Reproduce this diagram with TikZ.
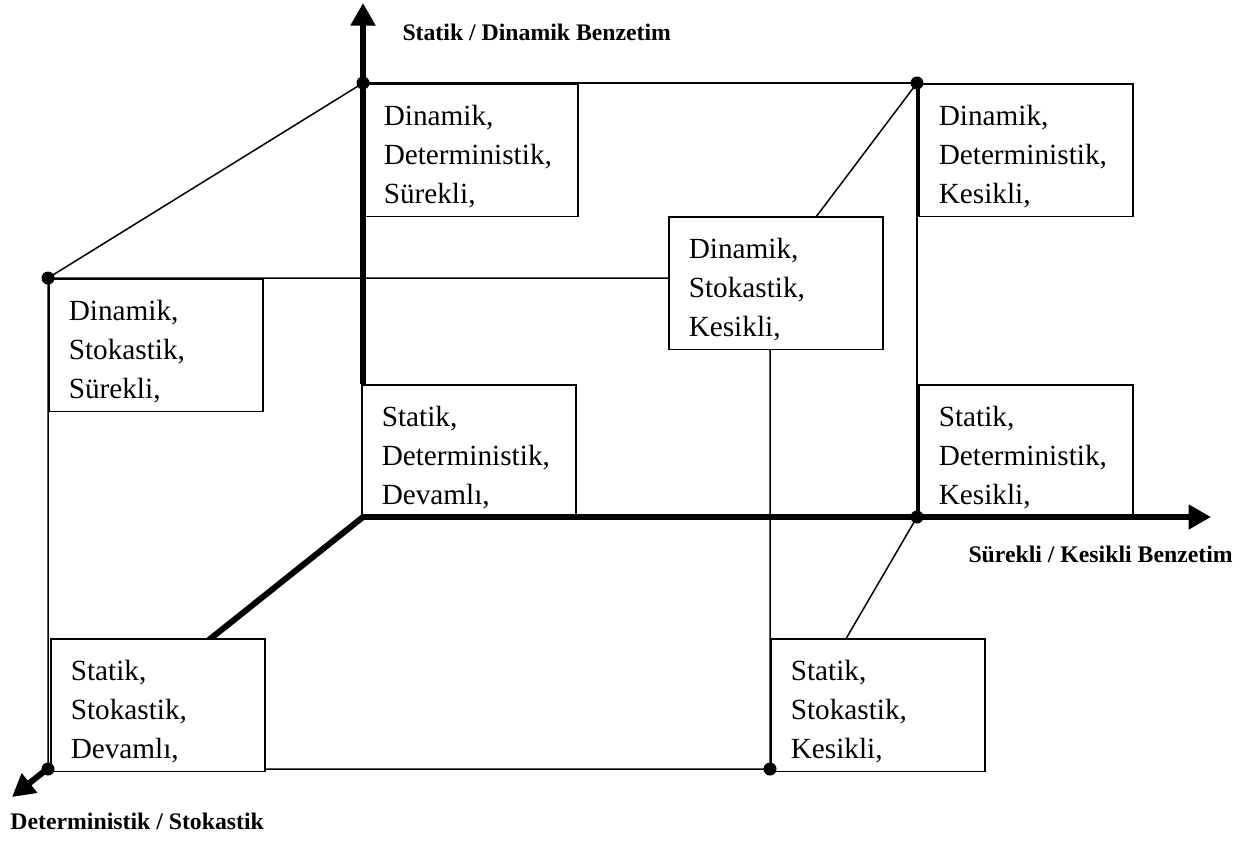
\documentclass[tikz,border=0pt]{standalone}
\usepackage{fontspec}
\setmainfont{Liberation Serif}
\usetikzlibrary{arrows.meta}

\begin{document}
\begin{tikzpicture}[x=0.4pt, y=-0.4pt,
    kutu/.style={draw, fill=white, line width=0.6pt, anchor=north west, align=left,
      text width=69.6pt, inner xsep=8pt, inner ysep=0pt, minimum height=53pt,
      font=\fontsize{11.7}{15.6}\selectfont, execute at begin node={\rule{0pt}{13pt}}},
    eksen/.style={line width=2.4pt, -{Triangle[length=9pt, width=9.5pt]}},
    ince/.style={line width=0.6pt},
    nokta/.style={circle, fill, inner sep=0pt, minimum size=5.2pt},
    baslik/.style={font=\bfseries\fontsize{9.5}{11}\selectfont, anchor=base west, inner sep=0pt}]
    \useasboundingbox (0,0) rectangle (1250,842);
    % corners of the cube
    \coordinate (O) at (363,517);
    \coordinate (U) at (363,83);
    \coordinate (UR) at (917,83);
    \coordinate (R) at (917,517);
    \coordinate (L) at (48,278);
    \coordinate (D) at (48,769);
    \coordinate (DR) at (770,769);
    \coordinate (M) at (770,278);
    \coordinate (ust) at (363,3);
    \coordinate (sag) at (1211,517);
    \coordinate (alt) at (12,797);
    % thin edges
    \draw[ince] (U) -- (UR) -- (R);
    \draw[ince] (U) -- (L) -- (M) -- (DR) -- (D) -- (L);
    \draw[ince] (UR) -- (M);
    \draw[ince] (R) -- (DR);
    \draw[eksen] (O) -- (alt);
    % boxes
    \node[kutu] (dds) at (363,83) {Dinamik,\\ Deterministik,\\ Sürekli,};
    \node[kutu] (ddk) at (918,83) {Dinamik,\\ Deterministik,\\ Kesikli,};
    \node[kutu] (dsk) at (668,216) {Dinamik,\\ Stokastik,\\ Kesikli,};
    \node[kutu] (dss) at (48,278) {Dinamik,\\ Stokastik,\\ Sürekli,};
    \node[kutu] (sdd) at (361,384) {Statik,\\ Deterministik,\\ Devamlı,};
    \node[kutu] (sdk) at (918,384) {Statik,\\ Deterministik,\\ Kesikli,};
    \node[kutu] (ssd) at (50,638) {Statik,\\ Stokastik,\\ Devamlı,};
    \node[kutu] (ssk) at (770,638) {Statik,\\ Stokastik,\\ Kesikli,};
    % axes
    \draw[eksen] (O |- sdd.north) -- (ust);
    \draw[eksen] (O) -- (sag);
    \foreach \p in {U, UR, L, R, D, DR}
        \node[nokta] at (\p) {};
    % axis titles
    \node[baslik] (tSD) at (402,40) {Statik / Dinamik Benzetim};
    \node[baslik] (tSK) at (968,562) {Sürekli / Kesikli Benzetim};
    \node[baslik] (tDS) at (10,829) {Deterministik / Stokastik};
\end{tikzpicture}
\end{document}
